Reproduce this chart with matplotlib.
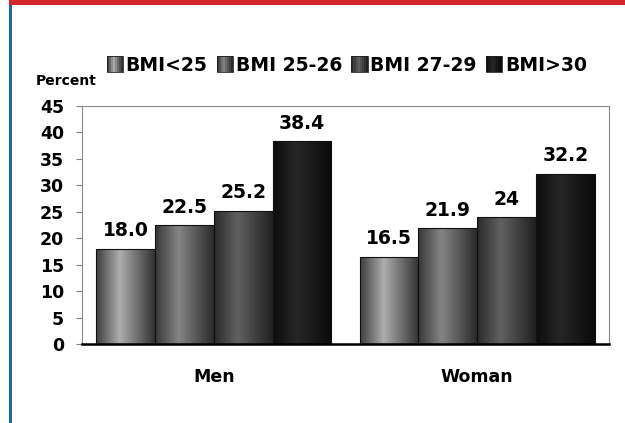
import matplotlib

matplotlib.use("Agg")
import matplotlib.pyplot as plt
import numpy as np
from matplotlib.legend_handler import HandlerBase
from matplotlib.patches import Rectangle

groups = ["Men", "Woman"]
series = ["BMI<25", "BMI 25-26", "BMI 27-29", "BMI>30"]
men_labels = ["18.0", "22.5", "25.2", "38.4"]
woman_labels = ["16.5", "21.9", "24", "32.2"]
yticks = [0, 5, 10, 15, 20, 25, 30, 35, 40, 45]

# cylinder-style shading per series: (edge, highlight, far edge) gray levels
shades = [
    (0.25, 0.68, 0.20),
    (0.22, 0.52, 0.17),
    (0.17, 0.38, 0.13),
    (0.05, 0.15, 0.04),
]

plt.rcParams["font.family"] = "DejaVu Sans"
plt.rcParams["font.weight"] = "bold"


def shade_profile(shade, n=64):
    t = np.linspace(0, 1, n)
    return np.interp(t, [0.0, 0.4, 1.0], shade)


class GradientHandler(HandlerBase):
    def __init__(self, shade):
        super().__init__()
        self.shade = shade

    def create_artists(self, legend, orig_handle, xdescent, ydescent, width, height, fontsize, trans):
        size = height * 1.25
        y0 = -ydescent + (height - size) / 2
        levels = shade_profile(self.shade, 8)
        w = size / len(levels)
        artists = []
        for i, g in enumerate(levels):
            artists.append(Rectangle((-xdescent + i * w, y0), w, size, facecolor=(g, g, g),
                                     edgecolor="none", transform=trans))
        artists.append(Rectangle((-xdescent, y0), size, size, facecolor="none",
                                 edgecolor="#202020", linewidth=0.6, transform=trans))
        return artists


fig = plt.figure(figsize=(6.25, 4.23), dpi=100)
ax = fig.add_axes([0.1312, 0.1868, 0.8432, 0.5626])

x = np.arange(len(groups))
width = 0.223
label_sets = [men_labels, woman_labels]
handles = []
for i, name in enumerate(series):
    texts = [labels[i] for labels in label_sets]
    values = [float(t) for t in texts]
    pos = x + (i - 1.5) * width
    bars = ax.bar(pos, values, width, facecolor="none", edgecolor="#111111", linewidth=0.8,
                  label=name, zorder=3)
    grad = shade_profile(shades[i])[np.newaxis, :]
    for bar, txt in zip(bars, texts):
        bx, by = bar.get_x(), bar.get_y()
        img = ax.imshow(grad, cmap="gray", vmin=0, vmax=1, aspect="auto",
                        extent=(bx, bx + bar.get_width(), by, by + bar.get_height()), zorder=2)
        img.set_clip_path(bar)
        ax.annotate(txt, (bar.get_x() + bar.get_width() / 2, bar.get_height()),
                    xytext=(0, 6), textcoords="offset points", ha="center", va="bottom",
                    fontsize=13.5, fontweight="bold", color="black")
    handles.append(bars)

ax.set_xlim(-0.5, 1.5)
ax.set_ylim(0, 45)
ax.set_yticks(yticks)
ax.set_xticks(x)
ax.set_xticklabels(groups)
ax.tick_params(axis="y", direction="out", length=4, width=0.8, color="#808080",
               labelsize=12.5, pad=9)
ax.tick_params(axis="x", length=0, labelsize=12.5, pad=17)
for side in ("left", "top", "right"):
    ax.spines[side].set_color("#8a8a8a")
    ax.spines[side].set_linewidth(0.8)
ax.spines["bottom"].set_color("black")
ax.spines["bottom"].set_linewidth(1.8)

fig.legend(handles, series, loc="center", bbox_to_anchor=(0.555, 0.846), ncol=4,
           frameon=False, fontsize=13.5, handlelength=0.7, handleheight=0.7,
           handletextpad=0.3, columnspacing=0.5, borderpad=0,
           handler_map={h: GradientHandler(s) for h, s in zip(handles, shades)})

fig.text(0.106, 0.809, "Percent", ha="center", va="center", fontsize=10, fontweight="bold")

# slide frame: red bar across the top, blue rule down the left
fig.patches.append(Rectangle((9 / 625, 1 - 5 / 423), 1, 5 / 423, transform=fig.transFigure,
                             facecolor="#d4262d", edgecolor="none"))
fig.patches.append(Rectangle((9 / 625, 0), 3 / 625, 1 - 5 / 423, transform=fig.transFigure,
                             facecolor="#1b6aa8", edgecolor="none"))

fig.savefig("out.png", dpi=100)
